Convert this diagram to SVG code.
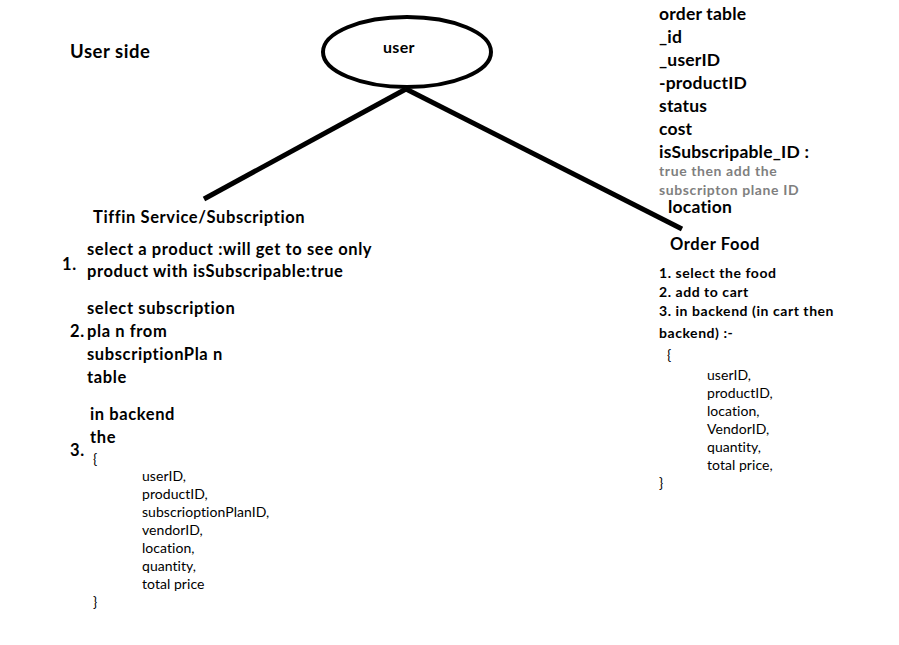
<svg xmlns="http://www.w3.org/2000/svg" width="899" height="645" viewBox="0 0 899 645">
<style>
text{font-family:Lato,"Open Sans","Liberation Sans",sans-serif;fill:#000}
.h{font-size:18.5px;font-weight:bold;letter-spacing:0.55px}
.t{font-size:17.5px;font-weight:bold;letter-spacing:0.2px}
.m{font-size:16.5px;font-weight:bold;letter-spacing:0.6px}
.u{font-size:16px;font-weight:bold;letter-spacing:0.3px}
.s{font-size:14px;font-weight:bold;letter-spacing:0.55px}
.g{font-size:14px;font-weight:bold;letter-spacing:0.6px;fill:#7f7f7f}
.f{font-size:14px;letter-spacing:0.05px}
.line{stroke:#000;stroke-width:5;fill:none;stroke-linecap:butt}
</style>
<rect width="899" height="645" fill="#fff"/>
<g id="connectors">
<line class="line" x1="406" y1="89" x2="204" y2="199"/>
<line class="line" x1="406" y1="89" x2="682" y2="229"/>
</g>
<g id="user">
<ellipse cx="407" cy="52" rx="84" ry="35" fill="#fff" stroke="#000" stroke-width="4"/>
<text x="383" y="53" class="u">user</text>
</g>
<g id="user-side">
<text x="70" y="58" class="h">User side</text>
</g>
<g id="order-table">
<text x="659" y="20" class="t">order table</text>
<text x="659" y="43" class="t">_id</text>
<text x="659" y="66" class="t">_userID</text>
<text x="659" y="89" class="t">-productID</text>
<text x="659" y="112" class="t">status</text>
<text x="659" y="135" class="t">cost</text>
<text x="659" y="158" class="t">isSubscripable_ID :</text>
<text x="659" y="176" class="g">true then add the</text>
<text x="659" y="195" class="g">subscripton plane ID</text>
<text x="668" y="213" class="t">location</text>
</g>
<g id="tiffin-service">
<text x="93" y="223" class="m">Tiffin Service/Subscription</text>
<text x="62" y="270" class="m">1.</text>
<text x="87" y="255" class="m">select a product :will get to see only</text>
<text x="87" y="277" class="m">product with isSubscripable:true</text>
<text x="87" y="314" class="m">select subscription</text>
<text x="70" y="337" class="m">2.</text>
<text x="87" y="337" class="m">pla n from</text>
<text x="87" y="360" class="m">subscriptionPla n</text>
<text x="87" y="383" class="m">table</text>
<text x="90" y="420" class="m">in backend</text>
<text x="90" y="443" class="m">the</text>
<text x="70" y="456" class="m">3.</text>
<text x="93" y="464" class="f">{</text>
<text x="142" y="481" class="f">userID,</text>
<text x="142" y="499" class="f">productID,</text>
<text x="142" y="517" class="f">subscrioptionPlanID,</text>
<text x="142" y="535" class="f">vendorID,</text>
<text x="142" y="553" class="f">location,</text>
<text x="142" y="571" class="f">quantity,</text>
<text x="142" y="589" class="f">total price</text>
<text x="93" y="607" class="f">}</text>
</g>
<g id="order-food">
<text x="670" y="250" class="m">Order Food</text>
<text x="659" y="278" class="s">1. select the food</text>
<text x="659" y="297" class="s">2. add to cart</text>
<text x="659" y="316" class="s">3. in backend (in cart then</text>
<text x="659" y="338" class="s">backend) :-</text>
<text x="667" y="360" class="f">{</text>
<text x="707" y="380" class="f">userID,</text>
<text x="707" y="398" class="f">productID,</text>
<text x="707" y="416" class="f">location,</text>
<text x="707" y="434" class="f">VendorID,</text>
<text x="707" y="452" class="f">quantity,</text>
<text x="707" y="470" class="f">total price,</text>
<text x="659" y="488" class="f">}</text>
</g>
</svg>
